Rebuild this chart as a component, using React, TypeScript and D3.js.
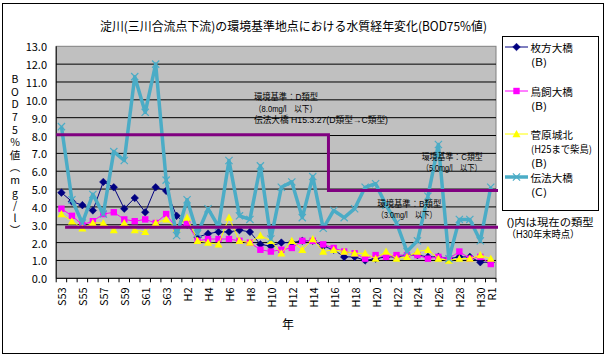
import React from "react";
import * as d3 from "d3";

const categories = [
  "S53","S54","S55","S56","S57","S58","S59","S60","S61","S62","S63",
  "H1","H2","H3","H4","H5","H6","H7","H8","H9","H10","H11","H12","H13","H14","H15",
  "H16","H17","H18","H19","H20","H21","H22","H23","H24","H25","H26","H27","H28","H29","H30","R1",
];
const tickLabels = [
  "S53","S55","S57","S59","S61","S63","H2","H4","H6","H8","H10","H12","H14",
  "H16","H18","H20","H22","H24","H26","H28","H30","R1",
];
const yTicks = [0,1,2,3,4,5,6,7,8,9,10,11,12,13];

// 枚方大橋 (B)
const hirakata = [4.8,4.3,4.1,3.8,5.4,5.1,3.9,4.5,3.7,5.1,4.9,3.5,3.0,2.3,2.5,2.6,2.6,2.7,2.6,1.9,1.8,2.0,2.0,2.1,2.1,1.8,1.6,1.2,1.2,1.0,1.1,1.2,1.2,1.3,1.3,1.2,1.2,1.1,1.2,1.2,0.9,0.9];
// 鳥飼大橋 (B)
const torikai = [3.9,3.5,3.0,3.2,3.6,3.7,3.3,3.2,3.3,3.1,3.6,2.8,3.1,2.1,2.2,2.2,2.2,2.1,2.0,1.6,1.5,1.6,1.7,2.1,2.1,1.9,1.7,1.5,1.4,1.1,1.3,1.2,1.3,1.3,1.3,1.1,1.2,1.1,1.5,1.1,1.2,0.8];
// 菅原城北 (H25まで柴島) (B)
const sugahara = [3.6,3.2,2.8,3.1,3.1,2.7,3.1,2.7,2.6,3.1,3.3,2.8,3.4,2.1,2.0,1.9,3.4,2.1,2.0,2.4,2.1,1.4,2.1,1.6,2.2,1.5,1.6,1.5,1.4,1.4,1.1,1.5,1.1,1.2,1.5,1.6,1.1,1.0,1.1,1.1,1.3,1.1];
// 伝法大橋 (C)
const denbo = [8.5,4.4,3.1,4.7,3.6,7.1,6.6,11.3,9.3,12.0,5.5,2.4,4.4,2.5,3.9,2.9,6.6,3.5,3.3,6.3,2.2,5.1,5.4,3.4,5.7,2.8,3.8,3.4,3.9,5.1,5.3,4.1,3.1,1.5,2.1,4.6,7.5,1.1,3.3,3.3,2.1,5.1];

// standard lines as drawn (mg/l)
const stdD = 8.05;
const stdC = 4.92;
const stdB = 2.86;
const stdChangeCategory = "H16";

const FONT = "'Noto Sans CJK JP', 'Noto Sans', sans-serif";
const TIGHT = "'Liberation Sans', 'Noto Sans CJK JP', sans-serif";
const NAVY = "#000080";
const MAGENTA = "#FF00FF";
const YELLOW = "#FFFF00";
const CYAN = "#4BACC6";
const PURPLE = "#800080";

function Marker({ kind, cx, cy }: { kind: string; cx: number; cy: number }) {
  if (kind === "diamond") {
    const r = 3.8;
    return <path d={`M${cx},${cy - r}L${cx + r},${cy}L${cx},${cy + r}L${cx - r},${cy}Z`} fill={NAVY} stroke={NAVY} strokeWidth={0.5} />;
  }
  if (kind === "square") {
    const s = 3.2;
    return <rect x={cx - s} y={cy - s} width={2 * s} height={2 * s} fill={MAGENTA} />;
  }
  if (kind === "triangle") {
    const r = 4;
    return <path d={`M${cx},${cy - r}L${cx + r},${cy + r * 0.8}L${cx - r},${cy + r * 0.8}Z`} fill={YELLOW} />;
  }
  const r = 3.6;
  return (
    <path d={`M${cx - r},${cy - r}L${cx + r},${cy + r}M${cx - r},${cy + r}L${cx + r},${cy - r}`} stroke={CYAN} strokeWidth={1.2} fill="none" />
  );
}

export default function App() {
  const W = 606, H = 358;
  const left = 56.2, right = 496, top = 46.3, bottom = 278.3;
  const x = d3.scaleBand<string>().domain(categories).range([left, right]).padding(0);
  const y = d3.scaleLinear().domain([0, 13]).range([bottom, top]);
  const bw = x.bandwidth();
  const cx = (i: number) => (x(categories[i]) as number) + bw / 2;
  const line = d3.line<number>().x((_, i) => cx(i)).y((d) => y(d));

  const series = [
    { data: hirakata, color: NAVY, width: 1, kind: "diamond" },
    { data: torikai, color: MAGENTA, width: 1, kind: "square" },
    { data: sugahara, color: YELLOW, width: 1, kind: "triangle" },
    { data: denbo, color: CYAN, width: 3.5, kind: "x" },
  ];

  const xChange = x(stdChangeCategory) as number;
  const stdPathDC = `M${left},${y(stdD)}L${xChange},${y(stdD)}L${xChange},${y(stdC)}L${right + 2},${y(stdC)}`;
  const stdPathB = `M${left + bw * 0.85},${y(stdB)}L${right + 2},${y(stdB)}`;

  const boundaries = d3.range(categories.length + 1).map((k) => left + k * bw);

  const legend = [
    { kind: "diamond", color: NAVY, width: 1, y: 47, name: "枚方大橋", sub: ["(B)"] },
    { kind: "square", color: MAGENTA, width: 1, y: 91, name: "鳥飼大橋", sub: ["(B)"] },
    { kind: "triangle", color: YELLOW, width: 1, y: 134, name: "菅原城北", sub: ["(H25まで柴島)", "(B)"] },
    { kind: "x", color: CYAN, width: 3.5, y: 177, name: "伝法大橋", sub: ["(C)"] },
  ];

  return (
    <div style={{ position: "absolute", left: 0, top: 0 }}>
      <svg width={W} height={H} style={{ display: "block" }} fontFamily={FONT}>
        <rect x={0} y={0} width={W} height={H} fill="#fff" />
        <rect x={2.5} y={3.5} width={601} height={350} fill="#fff" stroke="#000" strokeWidth={1} />

        <text x={293.5} y={25} fontSize={12.5} dominantBaseline="central" textAnchor="middle" textLength={387} lengthAdjust="spacingAndGlyphs">
          淀川(三川合流点下流)の環境基準地点における水質経年変化(BOD75%値)
        </text>

        {/* plot area */}
        <rect x={left} y={top} width={right - left} height={bottom - top} fill="#C0C0C0" stroke="#808080" strokeWidth={1} />
        {yTicks.filter((t) => t > 0 && t < 13).map((t) => (
          <line key={t} x1={left} x2={right} y1={y(t)} y2={y(t)} stroke="#000" strokeWidth={1} />
        ))}
        <line x1={left} x2={left} y1={top} y2={bottom} stroke="#000" strokeWidth={1} />
        <line x1={left} x2={right} y1={bottom} y2={bottom} stroke="#000" strokeWidth={1} />
        {boundaries.map((bx, k) => (
          <line key={k} x1={bx} x2={bx} y1={bottom} y2={bottom + 4} stroke="#000" strokeWidth={1} />
        ))}

        {yTicks.map((t) => (
          <text key={t} x={47} y={y(t)} fontSize={11} textAnchor="end" dominantBaseline="central">
            {t.toFixed(1)}
          </text>
        ))}

        {tickLabels.map((lab) => {
          const i = categories.indexOf(lab);
          const px = cx(i);
          return (
            <text key={lab} transform={`translate(${px},${bottom + 9}) rotate(-90)`} fontSize={11} textAnchor="end" dominantBaseline="central">
              {lab}
            </text>
          );
        })}

        <text x={15} y={74} fontSize={10.5} letterSpacing={2.1}
          style={{ writingMode: "vertical-rl", textOrientation: "upright" } as React.CSSProperties}>
          BOD75%値（mg/l）
        </text>
        <text x={288} y={323} fontSize={12} textAnchor="middle" dominantBaseline="central">年</text>

        {/* series */}
        {series.map((s, si) => (
          <g key={si}>
            <path d={line(s.data) as string} fill="none" stroke={s.color} strokeWidth={s.width} strokeLinejoin="round" />
            {s.data.map((v, i) => (
              <Marker key={i} kind={s.kind} cx={cx(i)} cy={y(v)} />
            ))}
          </g>
        ))}

        {/* environmental standard lines */}
        <path d={stdPathDC} fill="none" stroke={PURPLE} strokeWidth={3} />
        <path d={stdPathB} fill="none" stroke={PURPLE} strokeWidth={3} />

        <g fontSize={8.6} fontFamily={TIGHT}>
          <text x={254} y={97.3} dominantBaseline="central" textLength={64} lengthAdjust="spacingAndGlyphs">環境基準：D類型</text>
          <text x={254} y={108.5} dominantBaseline="central" textLength={63} lengthAdjust="spacingAndGlyphs">（8.0mg/l　以下）</text>
          <text x={254} y={120} dominantBaseline="central" textLength={134} lengthAdjust="spacingAndGlyphs">伝法大橋 H15.3.27(D類型→C類型)</text>
          <text x={421.7} y={156.5} dominantBaseline="central" textLength={61} lengthAdjust="spacingAndGlyphs">環境基準：C類型</text>
          <text x={421.7} y={167.8} dominantBaseline="central" textLength={60} lengthAdjust="spacingAndGlyphs">（5.0mg/l　以下）</text>
          <text x={377.3} y={204.4} dominantBaseline="central" textLength={64} lengthAdjust="spacingAndGlyphs">環境基準：B類型</text>
          <text x={376.7} y={214.6} dominantBaseline="central" textLength={60} lengthAdjust="spacingAndGlyphs">（3.0mg/l　以下）</text>
        </g>

        {/* legend */}
        <rect x={502.5} y={36.5} width={96} height={174} fill="#fff" stroke="#000" strokeWidth={1} />
        {legend.map((l) => (
          <g key={l.name}>
            <line x1={505} x2={528} y1={l.y} y2={l.y} stroke={l.color} strokeWidth={l.width} />
            <Marker kind={l.kind} cx={516.5} cy={l.y} />
            <text x={530.5} y={l.y} fontSize={10.5} dominantBaseline="central" textLength={42.5} lengthAdjust="spacingAndGlyphs">{l.name}</text>
            {l.sub.map((s, j) => (
              <text key={j} x={531} y={l.y + 14.5 + j * 13.5} fontSize={10} dominantBaseline="central"
                textLength={s.length > 3 ? 61 : 16} lengthAdjust="spacingAndGlyphs">{s}</text>
            ))}
          </g>
        ))}
        <g fontFamily={TIGHT} fontSize={10}>
          <text x={506.7} y={222.5} dominantBaseline="central" textLength={87} lengthAdjust="spacingAndGlyphs">()内は現在の類型</text>
          <text x={506.7} y={234} dominantBaseline="central" textLength={72.6} lengthAdjust="spacingAndGlyphs">（H30年末時点）</text>
        </g>
      </svg>
    </div>
  );
}
